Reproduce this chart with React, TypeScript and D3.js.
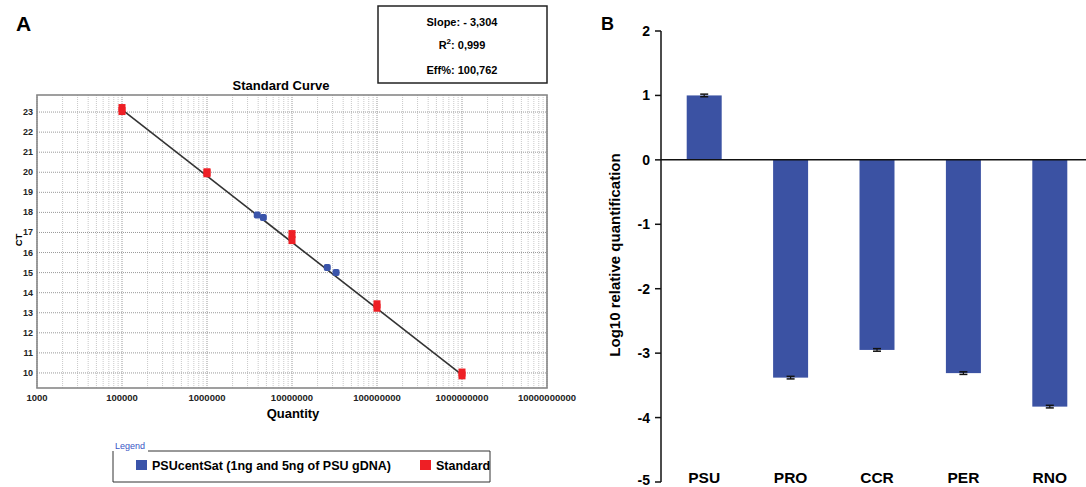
import * as d3 from "d3";

// ---- panel A: standard curve ----
const xTickValues = [1e4, 1e5, 1e6, 1e7, 1e8, 1e9, 1e10];
const xTickLabels = ["1000", "100000", "1000000", "10000000", "100000000", "1000000000", "10000000000"];
const yTicksA = [10, 11, 12, 13, 14, 15, 16, 17, 18, 19, 20, 21, 22, 23];

const standardQty = [1e5, 1e5, 1e6, 1e6, 1e7, 1e7, 1e8, 1e8, 1e9, 1e9];
const standardCt = [23.2, 23.05, 20.0, 19.95, 16.92, 16.62, 13.42, 13.25, 10.02, 9.88];
const sampleQty = [3.9e6, 4.6e6, 2.6e7, 3.3e7];
const sampleCt = [17.87, 17.75, 15.25, 15.0];

const slope = -3.304;
const intercept = 39.64;
const fitRange = [1e5, 1e9];

const statsLines = ["Slope: - 3,304", "0,999", "Eff%: 100,762"];

// ---- panel B: relative quantification ----
const categories = ["PSU", "PRO", "CCR", "PER", "RNO"];
const log10RQ = [1.0, -3.38, -2.95, -3.31, -3.83];
const errors = [0.02, 0.02, 0.02, 0.02, 0.02];
const yTicksB = [2, 1, 0, -1, -2, -3, -4, -5];

const FONT = "'Liberation Sans', Arial, sans-serif";
const RED = "#ee1f25";
const BLUE = "#3a54aa";
const BAR = "#3b52a3";

function StandardCurve() {
  const x = d3.scaleLog().domain([1e4, 1e10]).range([37, 547]);
  const y = d3.scaleLinear().domain([9.25, 23.85]).range([388, 95]);

  // minor log grid values
  const minor: number[] = [];
  for (let e = 4; e < 10; e++) {
    for (let k = 2; k <= 9; k++) minor.push(k * Math.pow(10, e));
  }

  const fit = d3
    .line<number>()
    .x((q) => x(q))
    .y((q) => y(intercept + slope * Math.log10(q)));

  return (
    <g fontFamily={FONT}>
      <text x={16} y={31} fontSize={21} fontWeight="bold">A</text>

      {/* stats box */}
      <rect x={378} y={6} width={169} height={77} fill="white" stroke="#222" strokeWidth={1.5} />
      <text x={462} y={26} fontSize={11} fontWeight="bold" textAnchor="middle">{statsLines[0]}</text>
      <text x={462} y={49} fontSize={11} fontWeight="bold" textAnchor="middle">
        R<tspan dy={-5} fontSize={8}>2</tspan><tspan dy={5}>: {statsLines[1]}</tspan>
      </text>
      <text x={462} y={74} fontSize={11} fontWeight="bold" textAnchor="middle">{statsLines[2]}</text>

      <text x={281} y={90} fontSize={13} fontWeight="bold" textAnchor="middle">Standard Curve</text>

      {/* grid */}
      {minor.map((v, i) => (
        <line key={"mv" + i} x1={x(v)} x2={x(v)} y1={95} y2={388} stroke="#bbb" strokeWidth={0.8} strokeDasharray="1,1" />
      ))}
      {xTickValues.map((v, i) => (
        <line key={"Mv" + i} x1={x(v)} x2={x(v)} y1={95} y2={388} stroke="#999" strokeWidth={1} strokeDasharray="1,1" />
      ))}
      {yTicksA.map((v) => (
        <line key={"h" + v} x1={37} x2={547} y1={y(v)} y2={y(v)} stroke="#999" strokeWidth={1} strokeDasharray="1,1" />
      ))}
      <rect x={37} y={95} width={510} height={293} fill="none" stroke="#888" strokeWidth={1.6} />

      {/* y ticks */}
      {yTicksA.map((v) => (
        <text key={"yt" + v} x={33} y={y(v) + 3} fontSize={9} fontWeight="bold" textAnchor="end" fill="#222">{v}</text>
      ))}
      <text transform="translate(22,240) rotate(-90)" fontSize={9.5} fontWeight="bold" textAnchor="middle">CT</text>

      {/* x ticks */}
      {xTickValues.map((v, i) => (
        <text key={"xt" + i} x={x(v)} y={401} fontSize={9.5} fontWeight="bold" textAnchor="middle" fill="#222">{xTickLabels[i]}</text>
      ))}
      <text x={293} y={418} fontSize={13} fontWeight="bold" textAnchor="middle">Quantity</text>

      {/* fit line */}
      <path d={fit(fitRange) || ""} fill="none" stroke="#333" strokeWidth={1.6} />

      {/* standards */}
      {standardQty.map((q, i) => (
        <rect key={"s" + i} x={x(q) - 3.5} y={y(standardCt[i]) - 4} width={7} height={8} fill={RED} />
      ))}
      {/* samples */}
      {sampleQty.map((q, i) => (
        <rect key={"u" + i} x={x(q) - 3.5} y={y(sampleCt[i]) - 3.5} width={7} height={7} rx={2} fill={BLUE} />
      ))}

      {/* legend */}
      <path d="M 113 451 L 113 482 L 490 482 L 490 451 L 148 451" fill="none" stroke="#333" strokeWidth={1} />
      <text x={115} y={449} fontSize={9} fill="#3a55c5">Legend</text>
      <rect x={136} y={460} width={11} height={10} fill={BLUE} />
      <text x={152} y={470} fontSize={12.5} fontWeight="bold">PSUcentSat (1ng and 5ng of PSU gDNA)</text>
      <rect x={420} y={460} width={11} height={10} fill={RED} />
      <text x={436} y={470} fontSize={12.5} fontWeight="bold">Standard</text>
    </g>
  );
}

function RelativeQuant() {
  const y = d3.scaleLinear().domain([-5, 2]).range([482, 31]);
  const x = d3.scaleBand<string>().domain(categories).range([661, 1093]).paddingInner(0.595).paddingOuter(0.2975);
  const bw = x.bandwidth();

  return (
    <g fontFamily={FONT}>
      <text x={601} y={30} fontSize={18} fontWeight="bold">B</text>

      {categories.map((c, i) => {
        const v = log10RQ[i];
        const x0 = x(c) as number;
        const top = y(Math.max(0, v));
        const h = Math.abs(y(v) - y(0));
        const cx = x0 + bw / 2;
        const e1 = y(v - errors[i]);
        const e2 = y(v + errors[i]);
        return (
          <g key={c}>
            <rect x={x0} y={top} width={bw} height={h} fill={BAR} />
            <line x1={cx} x2={cx} y1={e1} y2={e2} stroke="#111" strokeWidth={1.2} />
            <line x1={cx - 4} x2={cx + 4} y1={e1} y2={e1} stroke="#111" strokeWidth={1.5} />
            <line x1={cx - 4} x2={cx + 4} y1={e2} y2={e2} stroke="#111" strokeWidth={1.5} />
            <text x={cx} y={483} fontSize={15.5} fontWeight="bold" textAnchor="middle">{c}</text>
          </g>
        );
      })}

      {/* axes */}
      <line x1={661} x2={1086} y1={y(0)} y2={y(0)} stroke="#111" strokeWidth={1.5} />
      <line x1={661} x2={661} y1={y(2)} y2={y(-5)} stroke="#111" strokeWidth={1.5} />
      {yTicksB.map((v) => (
        <g key={"b" + v}>
          <line x1={655} x2={661} y1={y(v)} y2={y(v)} stroke="#111" strokeWidth={1.5} />
          <text x={650} y={Math.min(y(v) + 5, 485)} fontSize={14} fontWeight="bold" textAnchor="end">{v}</text>
        </g>
      ))}
      <text transform="translate(620,255) rotate(-90)" fontSize={15} fontWeight="bold" textAnchor="middle">
        Log10 relative quantification
      </text>
    </g>
  );
}

export default function App() {
  return (
    <div style={{ position: "absolute", left: 0, top: 0 }}>
      <svg width={1086} height={487} style={{ display: "block", background: "white" }}>
        <StandardCurve />
        <RelativeQuant />
      </svg>
    </div>
  );
}
